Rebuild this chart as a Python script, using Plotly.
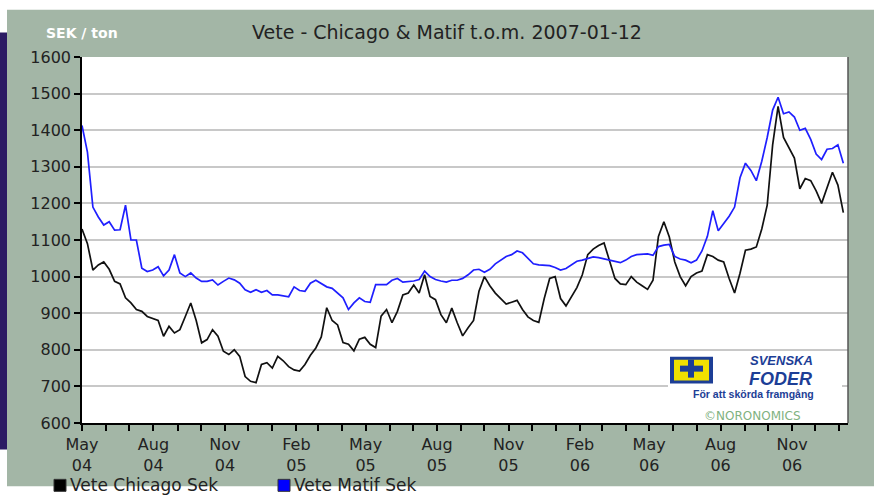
import pandas as pd
import plotly.graph_objects as go

# ---- data (weekly readings, SEK / ton) ----
dates = pd.date_range("2004-05-01", periods=141, freq="7D")

chicago = [1130, 1090, 1018, 1032, 1040, 1020, 987, 980, 942, 928,
           910, 905, 891, 885, 880, 837, 864, 846, 855, 891,
           928, 880, 819, 828, 855, 837, 796, 787, 800, 782,
           727, 714, 710, 760, 765, 750, 782, 770, 754, 745,
           742, 760, 785, 805, 835, 915, 880, 868, 820, 815,
           797, 829, 834, 815, 806, 892, 910, 874, 905, 950,
           955, 977, 955, 1005, 946, 937, 896, 874, 914, 874,
           838, 860, 880, 960, 1000, 975, 955, 940, 925, 930,
           935, 910, 890, 880, 875, 940, 995, 1000, 940, 920,
           945, 970, 1005, 1060, 1075, 1085, 1092, 1045, 995, 980,
           978, 1000, 985, 975, 965, 990, 1110, 1150, 1108, 1040,
           1000, 975, 1000, 1010, 1015, 1060, 1055, 1045, 1040, 995,
           955, 1009, 1072, 1075, 1081, 1130, 1195, 1360, 1465, 1380,
           1350, 1324, 1240, 1268, 1262, 1234, 1200, 1245, 1285, 1250,
           1175]

matif = [1413, 1340, 1190, 1163, 1141, 1150, 1127, 1128, 1195, 1100,
         1100, 1023, 1014, 1018, 1027, 1002, 1018, 1060, 1010, 1000,
         1010, 996, 987, 987, 991, 977, 987, 996, 991, 982,
         964, 957, 964, 957, 962, 950, 950, 948, 945, 972,
         962, 960, 982, 990, 982, 972, 968, 955, 942, 910,
         928, 942, 932, 930, 978, 978, 978, 990, 995, 985,
         986, 988, 992, 1015, 1000, 992, 988, 985, 990, 990,
         995, 1005, 1018, 1020, 1012, 1020, 1035, 1045, 1055, 1060,
         1070, 1065, 1050, 1035, 1032, 1032, 1030, 1025, 1018, 1022,
         1032, 1042, 1045, 1050, 1054, 1052, 1048, 1045, 1040, 1038,
         1045, 1055, 1060, 1062, 1062, 1058, 1082, 1086, 1088, 1055,
         1048, 1045, 1038, 1045, 1070, 1110, 1180, 1125, 1145, 1165,
         1190, 1270, 1310, 1290, 1262, 1315, 1380, 1455, 1490, 1445,
         1450, 1436, 1400, 1405, 1375, 1335, 1320, 1348, 1350, 1360,
         1310]

series_names = ["Vete Chicago Sek", "Vete Matif Sek"]
series_colors = ["#111111", "#1f1fff"]
title_text = "Vete - Chicago & Matif t.o.m. 2007-01-12"
unit_text = "SEK / ton"

# ---- layout helpers (pixel -> paper) ----
W, H = 874, 496
L, R, T, B = 82, 848, 56.5, 423.5


def px(x):
    return (x - L) / (R - L)


def py(y):
    return (B - y) / (B - T)


FONT = "DejaVu Sans"
BG = "#a3b6a6"
LOGO_BLUE = "#1d3e96"

fig = go.Figure()
for name, vals, col in zip(series_names, [chicago, matif], series_colors):
    fig.add_trace(go.Scatter(x=dates, y=vals, mode="lines", name=name,
                             line=dict(color=col, width=1.7), showlegend=False))


def rect(x0, x1, y0, y1, fill, layer="above", line=None):
    return dict(type="rect", xref="paper", yref="paper", x0=px(x0), x1=px(x1),
                y0=py(y1), y1=py(y0), fillcolor=fill,
                line=line or dict(width=0), layer=layer)


shapes = [
    rect(7, 874, 9, 487, BG, layer="below"),          # green frame
    rect(0, 7, 32, 450, "#2b1a63", layer="below"),    # navy bar
    rect(L, R, T, B, "white", layer="below"),         # white plot area
    dict(type="line", xref="paper", yref="paper", x0=1, x1=1, y0=0, y1=1,
         line=dict(color="#555555", width=1.5)),
    # logo
    rect(668, 842, 353, 402, "white"),
    rect(670, 713, 357, 384, LOGO_BLUE),
    rect(674, 709, 360, 381, "#f0e000"),
    rect(688, 694, 360, 378, LOGO_BLUE),
    rect(680, 688, 366, 372, LOGO_BLUE),
    rect(694, 703, 366, 372, LOGO_BLUE),
    # legend squares
    rect(54, 66, 480, 492, "#000000", line=dict(color="#333", width=1)),
    rect(278, 290, 480, 492, "#0000ff", line=dict(color="#333", width=1)),
]


def note(text, x, y, size, color, family=FONT, xanchor="center"):
    return dict(text=text, xref="paper", yref="paper", x=px(x), y=py(y), showarrow=False,
                xanchor=xanchor, yanchor="middle", borderpad=0,
                font=dict(family=family, size=size, color=color))


annotations = [
    note(title_text, 447, 31, 19, "#222222"),
    note("<b>" + unit_text + "</b>", 82, 32, 14, "white"),
    note(series_names[0], 69, 486, 17, "#222222", xanchor="left"),
    note(series_names[1], 293, 486, 17, "#222222", xanchor="left"),
    note("<i><b>SVENSKA</b></i>", 781, 361, 13, LOGO_BLUE, family="Liberation Sans"),
    note("<i><b>FODER</b></i>", 780, 379, 18, LOGO_BLUE, family="Liberation Sans"),
    note("<b>För att skörda framgång</b>", 753, 394, 10.5, LOGO_BLUE, family="Liberation Sans"),
    note("©NORONOMICS", 752, 416, 12, "#7fb27f"),
]

fig.update_layout(
    width=W, height=H,
    margin=dict(l=L, r=W - R, t=T, b=H - B),
    paper_bgcolor="white", plot_bgcolor="white",
    shapes=shapes, annotations=annotations,
    showlegend=False,
    xaxis=dict(type="date", range=["2004-05-01", "2007-01-12"],
               tick0="2004-05-01", dtick="M3", tickformat="%b<br>%y",
               ticks="outside", ticklen=6, tickwidth=1.5, tickcolor="black",
               minor=dict(dtick="M1", ticks="outside", ticklen=6, tickwidth=1.5,
                          tickcolor="black", showgrid=False),
               showgrid=False, showline=True, linecolor="black", linewidth=1.5,
               tickfont=dict(family=FONT, size=16, color="#222222")),
    yaxis=dict(range=[600, 1600], dtick=100, ticks="outside", ticklen=6, tickwidth=1.5,
               tickcolor="black", showgrid=True, gridcolor="#c8c8c8", gridwidth=1.5,
               showline=True, linecolor="black", linewidth=1.5, zeroline=False,
               tickfont=dict(family=FONT, size=16, color="#222222")),
)

fig.write_html("out.html", config={"displayModeBar": False},
               post_script="document.body.style.margin='0';document.body.style.overflow='hidden';")
